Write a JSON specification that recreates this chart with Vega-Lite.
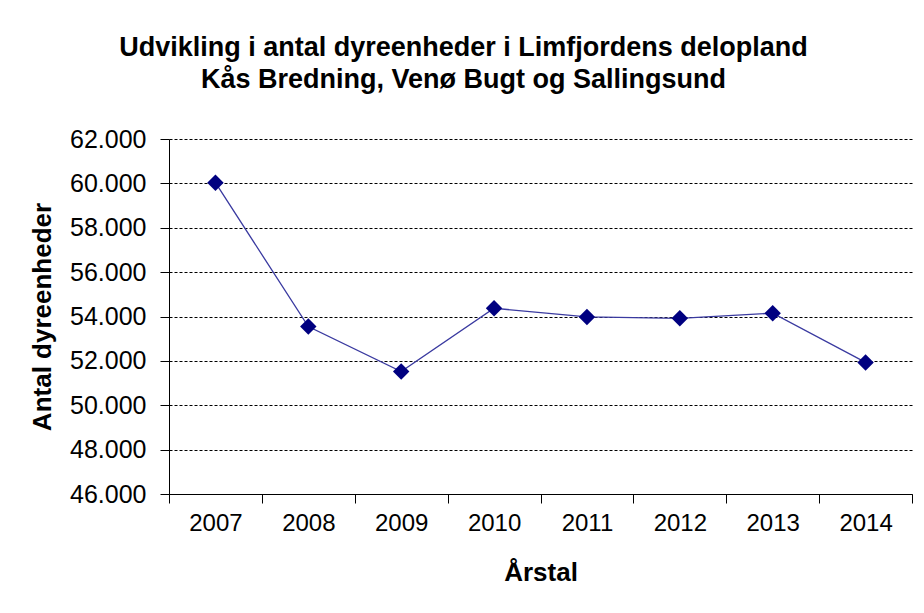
{
  "$schema": "https://vega.github.io/schema/vega-lite/v6.json",
  "autosize": {"type": "none"},
  "width": 743,
  "height": 355,
  "padding": {"left": 169, "top": 139, "right": 12, "bottom": 119},
  "background": "white",
  "title": {
    "text": ["Udvikling i antal dyreenheder i Limfjordens delopland", "Kås Bredning, Venø Bugt og Sallingsund"],
    "font": "Liberation Sans",
    "fontSize": 27,
    "fontWeight": "bold",
    "color": "black",
    "anchor": "middle",
    "frame": "group",
    "dx": -77,
    "lineHeight": 32,
    "offset": 33
  },
  "data": {
    "values": [
      {"year": "2007", "value": 60030},
      {"year": "2008", "value": 53550},
      {"year": "2009", "value": 51520},
      {"year": "2010", "value": 54370},
      {"year": "2011", "value": 53980},
      {"year": "2012", "value": 53920},
      {"year": "2013", "value": 54150},
      {"year": "2014", "value": 51930}
    ]
  },
  "encoding": {
    "x": {
      "field": "year",
      "type": "ordinal",
      "scale": {"type": "band", "paddingInner": 0, "paddingOuter": 0},
      "axis": {
        "title": "Årstal",
        "labelAngle": 0,
        "tickBand": "extent",
        "tickSize": 9,
        "tickColor": "black",
        "domainColor": "black",
        "labelFont": "Liberation Sans",
        "labelFontSize": 24,
        "labelColor": "black",
        "labelPadding": 8,
        "titleFont": "Liberation Sans",
        "titleFontSize": 26,
        "titleFontWeight": "bold",
        "titleColor": "black",
        "titlePadding": 24,
        "grid": false
      }
    },
    "y": {
      "field": "value",
      "type": "quantitative",
      "scale": {"domain": [46000, 62000], "nice": false, "zero": false},
      "axis": {
        "title": "Antal dyreenheder",
        "values": [46000, 48000, 50000, 52000, 54000, 56000, 58000, 60000, 62000],
        "labelExpr": "replace(format(datum.value, ','), ',', '.')",
        "tickSize": 9,
        "tickColor": "black",
        "domainColor": "black",
        "labelFont": "Liberation Sans",
        "labelFontSize": 25,
        "labelColor": "black",
        "labelPadding": 14,
        "titleFont": "Liberation Sans",
        "titleFontSize": 26,
        "titleFontWeight": "bold",
        "titleColor": "black",
        "titlePadding": 14,
        "grid": true,
        "gridColor": "black",
        "gridDash": [3, 2],
        "gridWidth": 1,
        "gridOpacity": 1
      }
    }
  },
  "layer": [
    {"mark": {"type": "line", "color": "#3a3aa0", "strokeWidth": 1.3}},
    {"mark": {"type": "point", "shape": "diamond", "filled": true, "color": "#000080", "size": 270, "opacity": 1}}
  ],
  "config": {"view": {"stroke": null}}
}
